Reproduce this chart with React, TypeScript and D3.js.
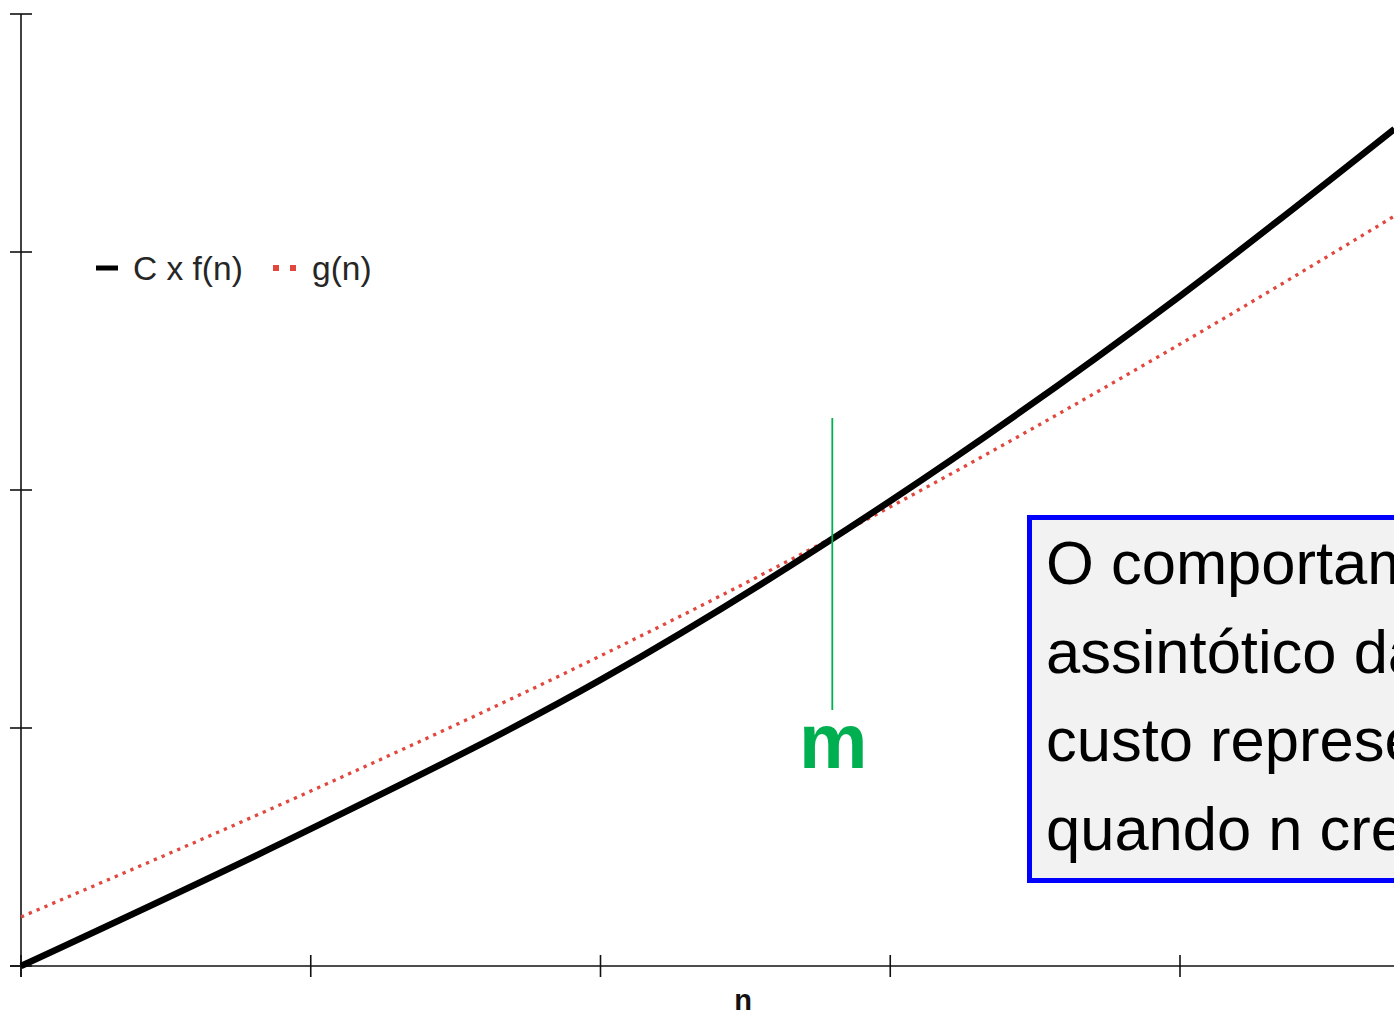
import React from "react";
import * as d3 from "d3";

const xTicks = [0, 1, 2, 3, 4, 5];
const yTicks = [0, 1, 2, 3, 4];
const nValues = [0, 1, 2, 3, 4, 4.74];
const cfValues = [0, 0.576, 1.202, 1.954, 2.815, 3.517];
const gValues = [0.206, 0.735, 1.303, 1.929, 2.613, 3.151];
const mValue = 2.8;
const seriesNames = ["C x f(n)", "g(n)"];
const noteLines = [
  "O comportamento",
  "assintótico da função de",
  "custo representa o limite",
  "quando n cresce",
];

const W = 1394;
const H = 1013;
const FONT = "'Liberation Sans', Arial, Helvetica, sans-serif";

export default function App() {
  const x = d3.scaleLinear().domain([0, 4]).range([21, 1180]);
  const y = d3.scaleLinear().domain([0, 4]).range([966, 14]);

  const line = d3
    .line<[number, number]>()
    .x((d) => x(d[0]))
    .y((d) => y(d[1]))
    .curve(d3.curveMonotoneX);

  const cfData: [number, number][] = nValues.map((n, i) => [n, cfValues[i]]);
  const gData: [number, number][] = nValues.map((n, i) => [n, gValues[i]]);

  const axisColor = "#111";
  const mx = x(mValue);

  return (
    <svg
      width={W}
      height={H}
      style={{ position: "absolute", left: 0, top: 0, background: "#fff" }}
    >
      {/* axes */}
      <line x1={x(0)} x2={x(0)} y1={y(4)} y2={y(0) + 11} stroke={axisColor} strokeWidth={1.6} />
      <line x1={x(0) - 11} x2={W + 10} y1={y(0)} y2={y(0)} stroke={axisColor} strokeWidth={1.6} />
      {yTicks.map((t) => (
        <line key={"yt" + t} x1={x(0) - 11} x2={x(0) + 11} y1={y(t)} y2={y(t)} stroke={axisColor} strokeWidth={1.6} />
      ))}
      {xTicks.map((t) => (
        <line key={"xt" + t} x1={x(t)} x2={x(t)} y1={y(0) - 11} y2={y(0) + 11} stroke={axisColor} strokeWidth={1.6} />
      ))}

      {/* series */}
      <path d={line(gData) || ""} fill="none" stroke="#e2473e" strokeWidth={3.3} strokeDasharray="3.3 5.2" />
      <path d={line(cfData) || ""} fill="none" stroke="#000" strokeWidth={6.5} />

      {/* m marker */}
      <line x1={mx} x2={mx} y1={418} y2={710} stroke="#00b050" strokeWidth={1.8} />
      <text x={mx + 1} y={768} textAnchor="middle" fontFamily={FONT} fontWeight="bold" fontSize={77} fill="#00b050">
        m
      </text>

      {/* legend */}
      <line x1={96} x2={118} y1={268} y2={268} stroke="#000" strokeWidth={5} />
      <text x={133} y={280} fontFamily={FONT} fontSize={33.5} fill="#262626">
        {seriesNames[0]}
      </text>
      <line x1={273} x2={298} y1={268} y2={268} stroke="#e2473e" strokeWidth={6} strokeDasharray="6 11" />
      <text x={312} y={280} fontFamily={FONT} fontSize={33.5} fill="#262626">
        {seriesNames[1]}
      </text>

      {/* x label */}
      <text x={743} y={1010} textAnchor="middle" fontFamily={FONT} fontWeight="bold" fontSize={29} fill="#111">
        n
      </text>

      {/* note box */}
      <rect x={1029.5} y={517.5} width={600} height={363} fill="#f2f2f2" stroke="#0000ff" strokeWidth={5} />
      {noteLines.map((l, i) => (
        <text key={i} x={1046} y={584 + i * 88.7} fontFamily={FONT} fontSize={61.5} fill="#000">
          {l}
        </text>
      ))}
    </svg>
  );
}
